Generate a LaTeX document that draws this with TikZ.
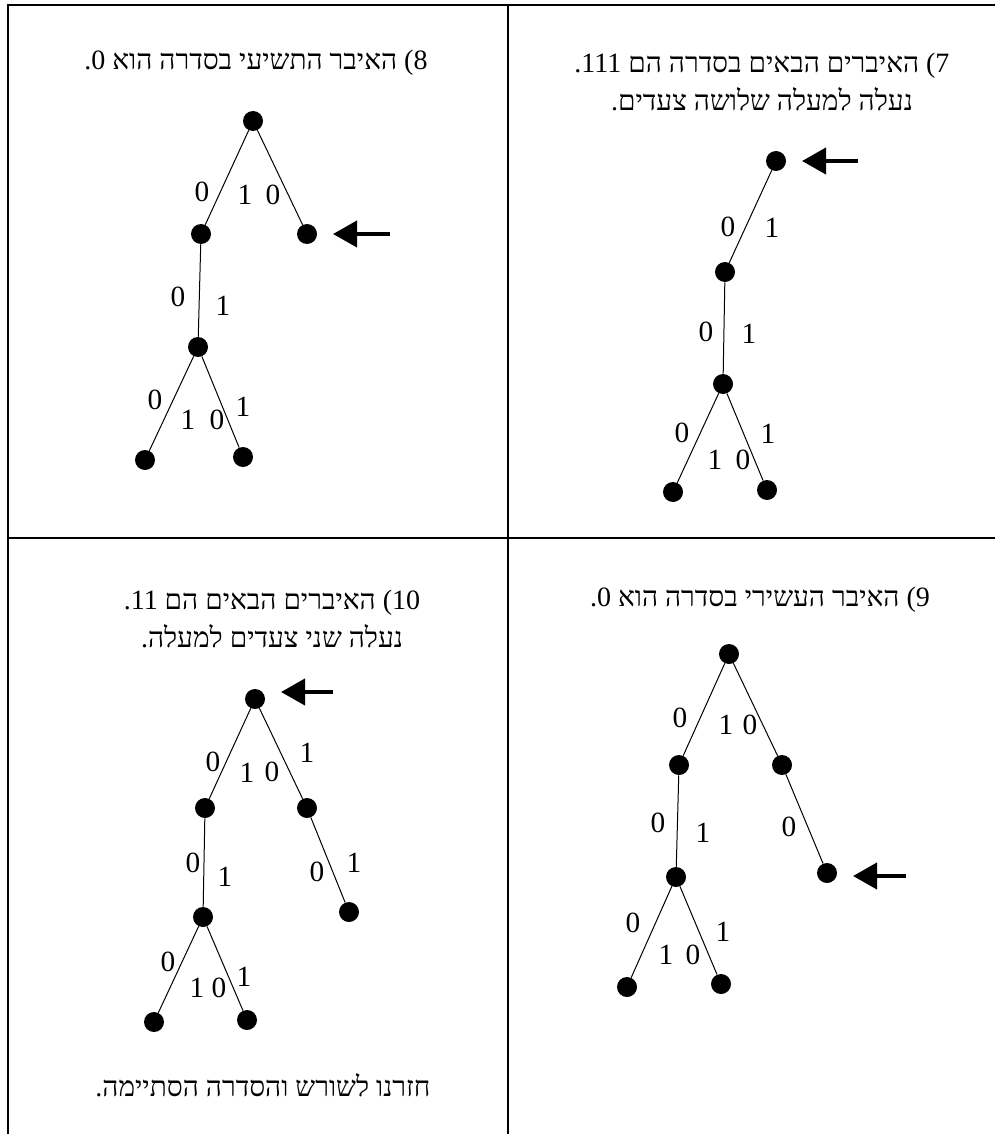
\documentclass[tikz,border=0pt]{standalone}
\usepackage{fontspec}
\setmainfont{Liberation Serif}
\newfontfamily\hebfont[Script=Hebrew]{Liberation Serif}
\TeXXeTstate=1
\usetikzlibrary{arrows.meta}

\begin{document}
\begin{tikzpicture}[x=0.75pt,y=-0.75pt,
    dot/.style={circle,fill=black,inner sep=0pt,minimum size=15pt},
    bit/.style={font=\fontsize{22}{22}\selectfont,inner sep=0pt},
    caption/.style={font=\hebfont\fontsize{21}{28.5}\selectfont,align=center,inner sep=0pt},
    edge/.style={line width=0.75pt},
    pointer/.style={-{Triangle[length=18pt,width=19.5pt]},line width=3pt,shorten >=19.5pt}]
  \useasboundingbox (0,0) rectangle (995,1134);
  % table
  \draw[line width=1pt] (8,1134) -- (8,5) -- (995,5);
  \draw[line width=1pt] (508,5) -- (508,1134);
  \draw[line width=1pt] (8,538) -- (995,538);

  % 8) top left
  \node[caption] (cap8) at (256,63) {\beginR 8) האיבר התשיעי בסדרה הוא 0.\endR};
  \node[dot] (r8) at (253,121) {};
  \node[dot] (a8) at (201,234) {};
  \node[dot] (b8) at (307,234) {};
  \node[dot] (c8) at (198,347) {};
  \node[dot] (d8) at (145,460) {};
  \node[dot] (e8) at (243,457) {};
  \draw[edge] (r8) -- (a8) -- (c8) -- (d8) (r8) -- (b8) (c8) -- (e8);
  \coordinate (p8) at (390,234);
  \draw[pointer] (p8) -- (p8 -| b8);
  \node[bit] (z8a) at (202,192) {0};
  \node[bit] (z8b) at (245,195) {1};
  \node[bit] (z8c) at (273,195) {0};
  \node[bit] (z8d) at (178,297) {0};
  \node[bit] (z8e) at (223,306) {1};
  \node[bit] (z8f) at (155,400) {0};
  \node[bit] (z8g) at (188,420) {1};
  \node[bit] (z8h) at (217,420) {0};
  \node[bit] (z8i) at (243,407) {1};

  % 7) top right
  \node[caption] (cap7) at (762,82) {\beginR 7) האיברים הבאים בסדרה הם 111.\endR\\\beginR נעלה למעלה שלושה צעדים.\endR};
  \node[dot] (r7) at (776,161) {};
  \node[dot] (a7) at (725,272) {};
  \node[dot] (c7) at (723,384) {};
  \node[dot] (d7) at (673,492) {};
  \node[dot] (e7) at (767,490) {};
  \draw[edge] (r7) -- (a7) -- (c7) -- (d7) (c7) -- (e7);
  \coordinate (p7) at (858,161);
  \draw[pointer] (p7) -- (p7 -| r7);
  \node[bit] (z7a) at (728,227) {0};
  \node[bit] (z7b) at (772,228) {1};
  \node[bit] (z7c) at (706,332) {0};
  \node[bit] (z7d) at (749,334) {1};
  \node[bit] (z7e) at (682,433) {0};
  \node[bit] (z7f) at (715,460) {1};
  \node[bit] (z7g) at (743,460) {0};
  \node[bit] (z7h) at (768,434) {1};

  % 9) bottom right
  \node[caption] (cap9) at (760,600) {\beginR 9) האיבר העשירי בסדרה הוא 0.\endR};
  \node[dot] (r9) at (729,654) {};
  \node[dot] (a9) at (679,765) {};
  \node[dot] (b9) at (782,765) {};
  \node[dot] (c9) at (676,877) {};
  \node[dot] (f9) at (827,873) {};
  \node[dot] (d9) at (627,987) {};
  \node[dot] (e9) at (721,984) {};
  \draw[edge] (r9) -- (a9) -- (c9) -- (d9) (r9) -- (b9) -- (f9) (c9) -- (e9);
  \coordinate (p9) at (906,876);
  \draw[pointer] (p9) -- (p9 -| f9);
  \node[bit] (z9a) at (680,718) {0};
  \node[bit] (z9b) at (726,725) {1};
  \node[bit] (z9c) at (750,725) {0};
  \node[bit] (z9d) at (658,823) {0};
  \node[bit] (z9e) at (703,833) {1};
  \node[bit] (z9f) at (789,827) {0};
  \node[bit] (z9g) at (633,923) {0};
  \node[bit] (z9h) at (666,955) {1};
  \node[bit] (z9i) at (693,955) {0};
  \node[bit] (z9j) at (723,932) {1};

  % 10) bottom left
  \node[caption] (cap10) at (272,619) {\beginR 10) האיברים הבאים הם 11.\endR\\\beginR נעלה שני צעדים למעלה.\endR};
  \node[dot] (r10) at (255,699) {};
  \node[dot] (a10) at (205,808) {};
  \node[dot] (b10) at (307,808) {};
  \node[dot] (c10) at (203,917) {};
  \node[dot] (g10) at (349,912) {};
  \node[dot] (d10) at (154,1022) {};
  \node[dot] (e10) at (247,1020) {};
  \draw[edge] (r10) -- (a10) -- (c10) -- (d10) (r10) -- (b10) -- (g10) (c10) -- (e10);
  \coordinate (p10) at (333,692);
  \draw[pointer] (p10) -- (p10 -| r10);
  \node[bit] (z10a) at (213,762) {0};
  \node[bit] (z10b) at (247,773) {1};
  \node[bit] (z10c) at (272,772) {0};
  \node[bit] (z10d) at (307,753) {1};
  \node[bit] (z10e) at (193,863) {0};
  \node[bit] (z10f) at (225,877) {1};
  \node[bit] (z10g) at (317,872) {0};
  \node[bit] (z10h) at (354,863) {1};
  \node[bit] (z10i) at (168,962) {0};
  \node[bit] (z10j) at (197,988) {1};
  \node[bit] (z10k) at (219,988) {0};
  \node[bit] (z10l) at (244,977) {1};
  \node[caption] (end10) at (263,1085) {\beginR חזרנו לשורש והסדרה הסתיימה.\endR};
\end{tikzpicture}
\end{document}
